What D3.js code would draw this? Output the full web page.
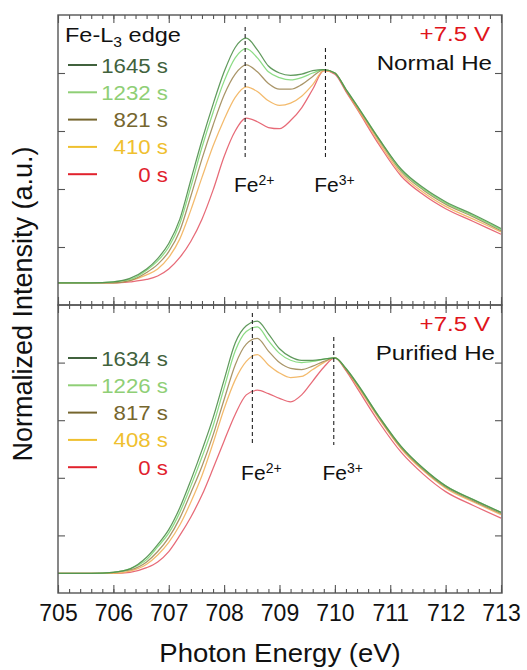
<!DOCTYPE html>
<html>
<head>
<meta charset="UTF-8">
<script src="https://cdn.jsdelivr.net/npm/d3@7"></script>
<style>
  body { margin: 0; background: #fff; }
  text { font-family: "Liberation Sans", Arial, sans-serif; }
</style>
</head>
<body>
<svg id="chart" width="527" height="670"></svg>
<script>
// ---- data ----
const energy = [705, 705.6, 706, 706.3, 706.6, 706.8, 707.0, 707.2, 707.4, 707.6, 707.8, 708.0, 708.2, 708.4, 708.6,
                708.8, 709.0, 709.2, 709.4, 709.6, 709.8, 710.0, 710.2, 710.4, 710.8, 711.2, 711.6, 712.0, 712.5, 713];

// Normal He
const top_1645 = [0.19,0.19,0.20,0.23,0.31,0.40,0.53,0.74,1.08,1.42,1.73,2.01,2.22,2.30,2.20,2.06,2.00,1.98,1.99,2.02,2.03,2.00,1.86,1.72,1.43,1.17,1.01,0.89,0.78,0.66];
const top_1232 = [0.19,0.19,0.20,0.22,0.30,0.38,0.50,0.70,1.02,1.36,1.66,1.93,2.13,2.21,2.13,2.01,1.96,1.94,1.96,2.00,2.03,2.00,1.86,1.72,1.43,1.16,1.00,0.88,0.77,0.65];
const top_821  = [0.19,0.19,0.19,0.21,0.28,0.35,0.46,0.64,0.94,1.26,1.55,1.81,1.99,2.07,2.01,1.91,1.86,1.86,1.90,1.97,2.03,2.00,1.85,1.71,1.42,1.15,0.99,0.87,0.76,0.64];
const top_410  = [0.19,0.19,0.19,0.21,0.26,0.31,0.41,0.57,0.82,1.10,1.37,1.60,1.79,1.88,1.84,1.76,1.72,1.74,1.80,1.90,2.02,2.00,1.85,1.70,1.40,1.13,0.97,0.85,0.74,0.63];
const top_0    = [0.19,0.19,0.19,0.20,0.22,0.25,0.31,0.41,0.55,0.74,0.99,1.28,1.50,1.61,1.58,1.53,1.52,1.59,1.70,1.86,2.02,1.99,1.84,1.69,1.38,1.11,0.95,0.83,0.72,0.61];

// Purified He
const bot_1634 = [0.17,0.17,0.18,0.21,0.31,0.42,0.55,0.74,0.98,1.24,1.52,1.85,2.17,2.32,2.36,2.25,2.12,2.05,2.02,2.02,2.03,2.04,1.95,1.82,1.53,1.27,1.08,0.93,0.81,0.70];
const bot_1226 = [0.17,0.17,0.18,0.21,0.29,0.40,0.52,0.70,0.93,1.18,1.45,1.78,2.10,2.27,2.31,2.19,2.08,2.02,2.00,2.01,2.03,2.04,1.95,1.82,1.53,1.27,1.08,0.93,0.81,0.70];
const bot_817  = [0.17,0.17,0.18,0.20,0.27,0.36,0.48,0.65,0.87,1.10,1.37,1.68,1.98,2.16,2.21,2.10,2.00,1.95,1.94,1.97,2.01,2.04,1.94,1.81,1.52,1.26,1.07,0.92,0.80,0.69];
const bot_408  = [0.17,0.17,0.17,0.19,0.25,0.33,0.44,0.59,0.79,1.02,1.30,1.60,1.85,2.01,2.07,1.98,1.91,1.87,1.88,1.94,2.00,2.04,1.94,1.80,1.51,1.25,1.06,0.91,0.79,0.68];
const bot_0    = [0.17,0.17,0.17,0.18,0.22,0.27,0.36,0.50,0.66,0.85,1.08,1.32,1.55,1.72,1.76,1.73,1.69,1.66,1.72,1.84,1.96,2.04,1.93,1.78,1.48,1.22,1.03,0.88,0.76,0.65];

const top_labels = ["1645 s", "1232 s", "821 s", "410 s", "0 s"];
const bot_labels = ["1634 s", "1226 s", "817 s", "408 s", "0 s"];
const peak_top = [708.38, 709.83];   // Fe2+, Fe3+
const peak_bot = [708.51, 709.98];
const x_ticks = [705, 706, 707, 708, 709, 710, 711, 712, 713];
const y_ticks = [0.5, 1.0, 1.5, 2.0];

// ---- styles ----
const text_col = ["#41623d", "#8fcf76", "#76662e", "#efc02f", "#e1222d"];
const line_col = ["#4f8f4b", "#7fd878", "#a08a58", "#f2b35c", "#e45a68"];
const xl = 58, xr = 502;

const svg = d3.select("#chart");
const x = d3.scaleLinear([705, 713], [xl, xr - 1]);

// horizontal text, slightly stretched (the original face is wider than Liberation Sans)
function wtext(g, px, py, size, anchor, fill, sx) {
  return g.append("text").attr("transform", `translate(${px},${py}) scale(${sx},1)`)
    .attr("text-anchor", anchor).attr("font-size", size).attr("fill", fill);
}

const panels = [
  { y0: 15,  y1: 305, series: [top_1645, top_1232, top_821, top_410, top_0], labels: top_labels,
    peaks: peak_top, gas: "Normal He", legY: 65, dash: [[27,160],[48,157]], feY: 192, title: true },
  { y0: 305, y1: 593, series: [bot_1634, bot_1226, bot_817, bot_408, bot_0], labels: bot_labels,
    peaks: peak_bot, gas: "Purified He", legY: 358, dash: [[313,443],[337,445]], feY: 480, title: false }
];

const line = d3.line().curve(d3.curveMonotoneX);

panels.forEach((p, pi) => {
  const y = d3.scaleLinear([0, 2.5], [p.y1, p.y0]);
  const g = svg.append("g");

  // curves: 0 s first so the greens sit on top
  for (let i = p.series.length - 1; i >= 0; i--) {
    const pts = energy.map((e, k) => [x(e), y(p.series[i][k])]);
    g.append("path").attr("d", line(pts))
      .attr("fill", "none").attr("stroke", line_col[i])
      .attr("stroke-width", 1.25).attr("stroke-opacity", 0.9);
  }

  // peak markers
  p.peaks.forEach((e, k) => {
    g.append("line").attr("x1", x(e)).attr("x2", x(e))
      .attr("y1", p.dash[k][0]).attr("y2", p.dash[k][1])
      .attr("stroke", "#222").attr("stroke-width", 1.1).attr("stroke-dasharray", "4,3");
    const t = g.append("text").attr("x", x(e) + 9).attr("y", p.feY)
      .attr("text-anchor", "middle").attr("font-size", 21).attr("fill", "#111");
    t.append("tspan").text("Fe");
    t.append("tspan").attr("dy", -7).attr("font-size", 14).text(k == 0 ? "2+" : "3+");
  });

  // frame
  g.append("rect").attr("x", xl).attr("y", p.y0).attr("width", xr - xl).attr("height", p.y1 - p.y0)
    .attr("fill", "none").attr("stroke", "#555").attr("stroke-width", 1.4);

  // x ticks on top and bottom edge of each panel, pointing inward
  const minor = d3.range(705, 713.001, 0.2);
  [[p.y0, 1], [p.y1, -1]].forEach(([yy, dir]) => {
    const ax = dir > 0 ? d3.axisBottom(x) : d3.axisTop(x);
    g.append("g").attr("transform", `translate(0,${yy})`)
      .call(ax.tickValues(minor).tickSize(4).tickFormat(""))
      .call(s => s.select(".domain").remove())
      .call(s => s.selectAll("line").attr("stroke", "#555").attr("stroke-width", 1.1));
    g.append("g").attr("transform", `translate(0,${yy})`)
      .call(ax.tickValues(x_ticks).tickSize(8).tickFormat(""))
      .call(s => s.select(".domain").remove())
      .call(s => s.selectAll("line").attr("stroke", "#555").attr("stroke-width", 1.1));
  });

  // y ticks, inward on both sides
  g.append("g").attr("transform", `translate(${xl},0)`)
    .call(d3.axisRight(y).tickValues(y_ticks).tickSize(7).tickFormat(""))
    .call(s => s.select(".domain").remove())
    .call(s => s.selectAll("line").attr("stroke", "#555").attr("stroke-width", 1.1));
  g.append("g").attr("transform", `translate(${xr},0)`)
    .call(d3.axisLeft(y).tickValues(y_ticks).tickSize(7).tickFormat(""))
    .call(s => s.select(".domain").remove())
    .call(s => s.selectAll("line").attr("stroke", "#555").attr("stroke-width", 1.1));

  // legend
  if (p.title) {
    const t = wtext(g, 65, 42, 21, "start", "#111", 1.12);
    t.append("tspan").text("Fe-L");
    t.append("tspan").attr("dy", 5).attr("font-size", 14).text("3");
    t.append("tspan").attr("dy", -5).text(" edge");
  }
  p.labels.forEach((lab, i) => {
    const yy = p.legY + i * 27.3;
    g.append("line").attr("x1", 68).attr("x2", 97).attr("y1", yy).attr("y2", yy)
      .attr("stroke", text_col[i]).attr("stroke-width", 2);
    wtext(g, 168, yy + 7.5, 21, "end", text_col[i], 1.06).text(lab);
  });

  wtext(g, 490, p.y0 + 26, 21, "end", "#e0141c", 1.15).text("+7.5 V");
  wtext(g, pi == 0 ? 492 : 495, p.y0 + 55, 21, "end", "#111", 1.15).text(p.gas);
});

// x tick labels
svg.append("g").attr("transform", `translate(0,593)`)
  .call(d3.axisBottom(x).tickValues(x_ticks).tickSize(0).tickPadding(12).tickFormat(d3.format("d")))
  .call(s => s.select(".domain").remove())
  .call(s => s.selectAll("text").attr("font-size", 23).attr("fill", "#111")
    .attr("font-family", "Liberation Sans, Arial, sans-serif"));

svg.append("text").attr("transform", "translate(280,662) scale(1.1,1)").attr("text-anchor", "middle")
  .attr("font-size", 25).attr("fill", "#111").text("Photon Energy (eV)");

svg.append("text").attr("transform", "translate(32,304) rotate(-90)").attr("text-anchor", "middle")
  .attr("font-size", 27).attr("fill", "#111").text("Normalized Intensity (a.u.)");
</script>
</body>
</html>
